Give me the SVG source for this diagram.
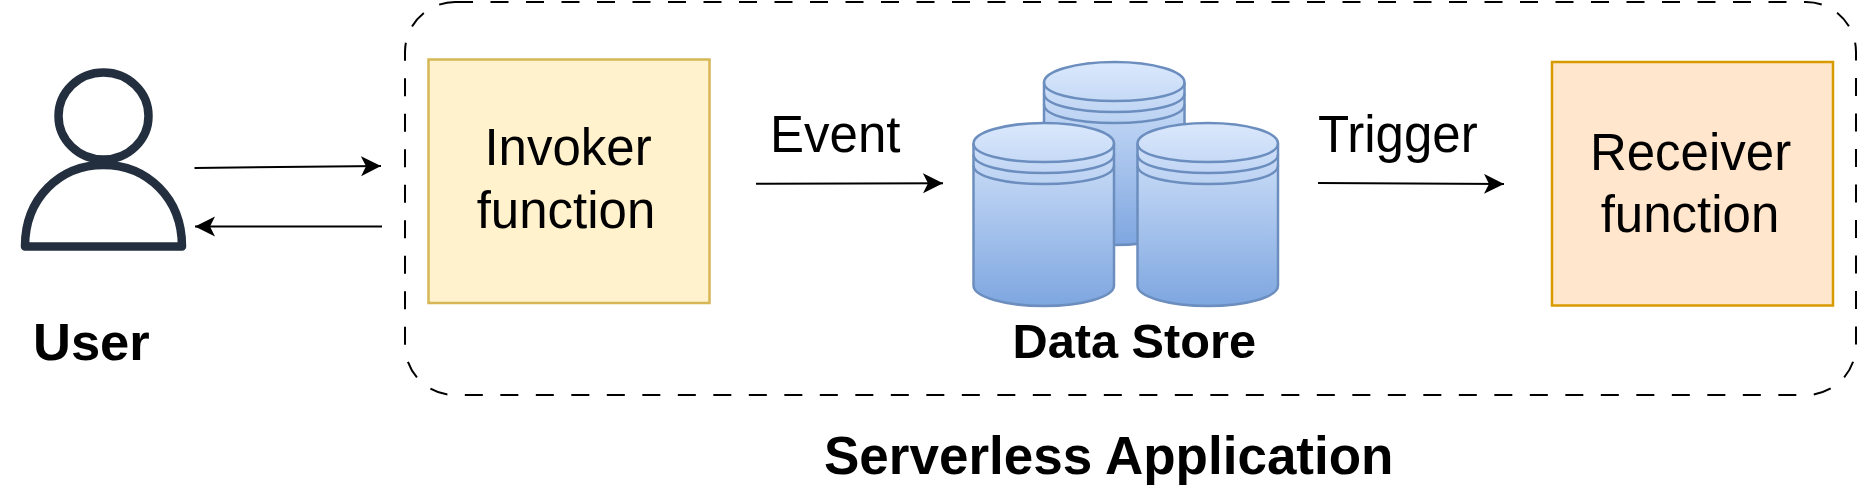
<svg xmlns="http://www.w3.org/2000/svg" width="1859" height="503" viewBox="0 0 1859 503">
<style>
text{font-family:"Liberation Sans",Arial,sans-serif;fill:#000}
.r{font-size:51px}
.b{font-weight:bold}
.c{fill:url(#cyl);stroke:#6c8ebf;stroke-width:2.5}
.l{fill:none;stroke:#6c8ebf;stroke-width:2.5}
.e{fill:none;stroke:#000;stroke-width:2;marker-end:url(#arrow)}
</style>
<defs>
<linearGradient id="cyl" x1="0" y1="0" x2="0" y2="1"><stop offset="0" stop-color="#dae8fc"/><stop offset="1" stop-color="#7ea6e0"/></linearGradient>
<marker id="arrow" markerUnits="userSpaceOnUse" markerWidth="22" markerHeight="22" refX="20" refY="10" orient="auto"><path d="M0 0L20 10L0 20L5 10Z" fill="#000"/></marker>
<g id="can">
<path class="c" d="M0 20.500C0 9.200 31.500 0 70.500 0S140.500 9.200 140.500 20.500V162.500C140.500 173.800 109.500 183 70.500 183S0 173.800 0 162.500Z"/>
<path class="l" d="M0 20.500C0 31.800 31.500 39 70.500 39S140.500 31.800 140.500 20.500M0 31.500C0 42.800 31.500 50 70.500 50S140.500 42.800 140.500 31.500M0 42.500C0 53.800 31.500 61 70.500 61S140.500 53.800 140.500 42.500"/>
</g>
</defs>
<g id="application">
<rect x="405" y="2" width="1451" height="393" rx="50" ry="50" fill="none" stroke="#000" stroke-width="2" stroke-dasharray="18 17.500"/>
<text class="b" x="824" y="474" font-size="53">Serverless Application</text>
</g>
<g id="user">
<ellipse cx="103.500" cy="116" rx="45" ry="43.500" fill="#fff" stroke="#232f3e" stroke-width="8.500"/>
<path d="M25 246.500C25 198 60 165 103.500 165S182 198 182 246.500Z" fill="#fff" stroke="#232f3e" stroke-width="8.500" stroke-linejoin="round"/>
<text class="b" x="33" y="360" font-size="52.500">User</text>
</g>
<g id="invoker">
<rect x="428.500" y="59.500" width="281" height="243.500" fill="#fff2cc" stroke="#d6b656" stroke-width="2.500"/>
<text class="r" x="568" y="164.700" text-anchor="middle">Invoker</text>
<text class="r" x="566" y="227.700" text-anchor="middle">function</text>
</g>
<g id="datastore">
<use href="#can" x="1044" y="62"/>
<use href="#can" x="973.500" y="123"/>
<use href="#can" x="1137.500" y="123"/>
<text class="b" x="1012.500" y="358" font-size="48.700">Data Store</text>
</g>
<g id="receiver">
<rect x="1552" y="62" width="281" height="243.500" fill="#ffe6cc" stroke="#d79b00" stroke-width="2.500"/>
<text class="r" x="1690.500" y="169.700" text-anchor="middle">Receiver</text>
<text class="r" x="1690" y="231.700" text-anchor="middle">function</text>
</g>
<g id="connectors">
<path class="e" d="M194.500 168L381 166"/>
<path class="e" d="M382 226.500H195"/>
<path class="e" d="M756 183.700L943 183.300"/>
<path class="e" d="M1318 183L1504 184"/>
</g>
<g id="labels">
<text class="r" x="770" y="151.700" font-size="50.500">Event</text>
<text class="r" x="1318" y="151.700" font-size="51.500">Trigger</text>
</g>
</svg>
